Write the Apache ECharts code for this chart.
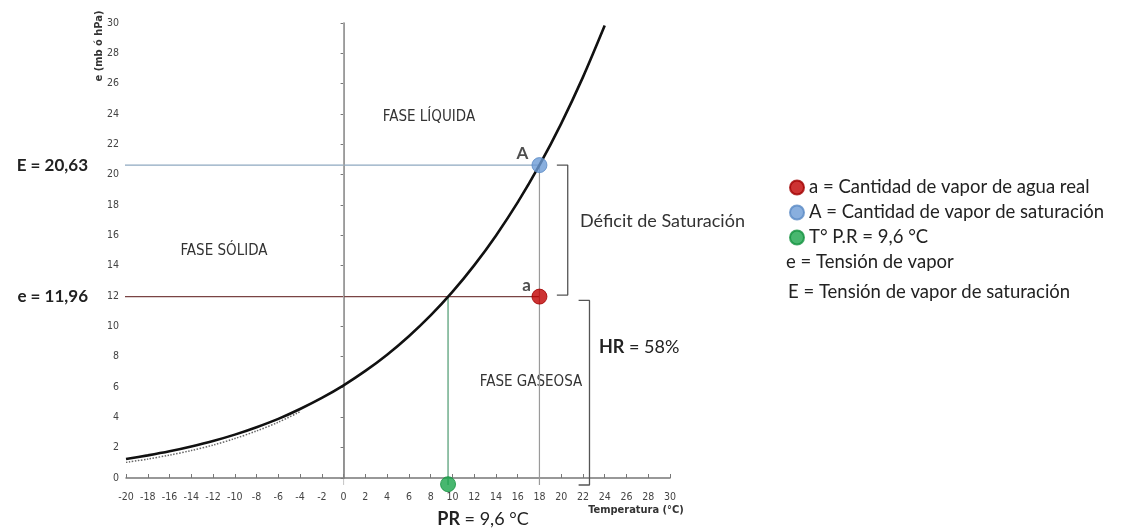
<!DOCTYPE html>
<html>
<head>
<meta charset="utf-8">
<script src="https://cdn.jsdelivr.net/npm/echarts@6/dist/echarts.min.js"></script>
<style>
html,body{margin:0;padding:0;background:#fff;}
#chart{width:1121px;height:528px;}
</style>
</head>
<body>
<div id="chart"></div>
<script>
// ---- data ----
const temps = [-20,-18,-16,-14,-12,-10,-8,-6,-4,-2,0,2,4,6,8,10,12,14,16,18,20,22,24];
const eSat  = [1.25,1.49,1.76,2.08,2.44,2.86,3.35,3.90,4.55,5.28,6.11,7.06,8.13,9.35,10.72,12.27,14.02,15.98,18.17,20.63,23.37,26.43,29.83];
const iceTemps = [-20,-18,-16,-14,-12,-10,-8,-6,-4];
const eIce = [1.03,1.25,1.51,1.81,2.17,2.60,3.10,3.68,4.37];
const xTicks = {min:-20, max:30, step:2};
const yTicks = {min:0, max:30, step:2};
const T = 18;          // air temperature (°C)
const E = 20.63;       // saturation vapour pressure
const e = 11.96;       // actual vapour pressure
const PR = 9.6;        // dew point
const HR = 58;         // relative humidity %
const legendNames = ['a = Cantidad de vapor de agua real','A = Cantidad de vapor de saturación','T° P.R = 9,6 °C'];
const extraLegend = ['e = Tensión de vapor','E = Tensión de vapor de saturación'];

const NARROW = "'Liberation Sans Narrow','DejaVu Sans Condensed',sans-serif";
const MAIN = "Lato,'Noto Sans',sans-serif";
const axisBottom = -0.46; // where the offset x axis line sits, in value units
const leftStart = -23;

const chart = echarts.init(document.getElementById('chart'), null, {renderer:'canvas'});

function seg(points, color, width, type){
  return {type:'line', data:points, symbol:'none', silent:true, clip:false,
    lineStyle:{color:color, width:width, type:type||'solid'}, z:2, animation:false};
}

const option = {
  animation:false,
  backgroundColor:'#fff',
  grid:{left:126, right:451, top:23, bottom:50},
  xAxis:{type:'value', min:xTicks.min, max:xTicks.max, interval:xTicks.step, offset:7,
    axisLine:{lineStyle:{color:'#777', width:1.5}},
    axisTick:{inside:true, length:4, lineStyle:{color:'#777'}},
    axisLabel:{color:'#444', fontSize:10.5, fontFamily:NARROW, margin:7},
    splitLine:{show:false}},
  yAxis:{type:'value', min:yTicks.min, max:yTicks.max, interval:yTicks.step, offset:4,
    axisLine:{show:true, lineStyle:{color:'#777', width:1.5}},
    axisTick:{show:true, length:3, lineStyle:{color:'#777'}},
    axisLabel:{color:'#444', fontSize:10.5, fontFamily:NARROW, margin:3},
    splitLine:{show:false}},
  legend:{orient:'vertical', left:784, top:172, itemWidth:14, itemHeight:14, itemGap:4,
    icon:'circle', data:legendNames,
    textStyle:{fontFamily:MAIN, fontSize:18.5, color:'#222', lineHeight:21}},
  series:[
    seg([[leftStart,E],[T,E]], '#8ea8c0', 1.2),
    seg([[leftStart,e],[T,e]], '#7a4444', 1.2),
    seg([[0,yTicks.max],[0,6.1]], '#aaaaaa', 1),
    seg([[0,6.1],[0,axisBottom]], '#888888', 1, 'dotted'),
    seg([[T,E],[T,axisBottom]], '#9a9a9a', 1.2),
    seg([[PR,e],[PR,axisBottom]], '#6fae8c', 1.5),
    seg([[19.6,E],[20.6,E],[20.6,e+0.1],[19.6,e+0.1]], '#555', 1.3),
    seg([[21.6,e-0.25],[22.6,e-0.25],[22.6,axisBottom],[21.6,axisBottom]], '#555', 1.3),
    {type:'line', data:iceTemps.map((t,i)=>[t,eIce[i]]), symbol:'none', smooth:0.3, silent:true,
      lineStyle:{color:'#666', width:1.5, type:'dotted'}, z:3},
    {type:'line', data:temps.map((t,i)=>[t,eSat[i]]), symbol:'none', smooth:0.3, silent:true,
      lineStyle:{color:'#111', width:2.6}, z:4},
    {name:legendNames[0], type:'scatter', data:[[T,e]], symbolSize:15, clip:false, z:6,
      itemStyle:{color:'#c00000', borderColor:'#a00000', borderWidth:1},
      label:{show:true, formatter:'a', position:'inside', offset:[-13,-11], color:'#222', fontSize:17, fontWeight:'bold', fontFamily:MAIN}},
    {name:legendNames[1], type:'scatter', data:[[T,E]], symbolSize:15, clip:false, z:6,
      itemStyle:{color:'#6b9bd6', borderColor:'#5a8ac4', borderWidth:1},
      label:{show:true, formatter:'A', position:'inside', offset:[-17,-12], color:'#222', fontSize:17, fontWeight:'bold', fontFamily:MAIN}},
    {name:legendNames[2], type:'scatter', data:[[PR,axisBottom+0.05]], symbolSize:15, clip:false, z:6,
      itemStyle:{color:'#1aa54b', borderColor:'#13913f', borderWidth:1}}
  ],
  graphic:[
    {type:'text', x:99, y:46, rotation:Math.PI/2, style:{text:'e (mb ó hPa)', font:'bold 11px '+NARROW, fill:'#333', align:'center', verticalAlign:'middle'}},
    {type:'text', x:88, y:166, style:{text:'E = 20,63', font:'bold 17px '+MAIN, fill:'#222', align:'right', verticalAlign:'middle'}},
    {type:'text', x:88, y:297, style:{text:'e = 11,96', font:'bold 17px '+MAIN, fill:'#222', align:'right', verticalAlign:'middle'}},
    {type:'text', x:429, y:117, style:{text:'FASE LÍQUIDA', font:'15px '+NARROW, fill:'#333', align:'center', verticalAlign:'middle'}},
    {type:'text', x:224, y:251, style:{text:'FASE SÓLIDA', font:'15px '+NARROW, fill:'#333', align:'center', verticalAlign:'middle'}},
    {type:'text', x:531, y:382, style:{text:'FASE GASEOSA', font:'15px '+NARROW, fill:'#333', align:'center', verticalAlign:'middle'}},
    {type:'text', x:580, y:221, style:{text:'Déficit de Saturación', font:'18px '+MAIN, fill:'#333', align:'left', verticalAlign:'middle'}},
    {type:'text', x:599, y:347, style:{text:'{b|HR} = '+HR+'%', font:'18px '+MAIN, fill:'#222', align:'left', verticalAlign:'middle',
      rich:{b:{font:'bold 18px '+MAIN, fill:'#222'}}}},
    {type:'text', x:483, y:519, style:{text:'{b|PR} = 9,6 °C', font:'18px '+MAIN, fill:'#222', align:'center', verticalAlign:'middle',
      rich:{b:{font:'bold 18px '+MAIN, fill:'#222'}}}},
    {type:'text', x:636, y:510, style:{text:'Temperatura (°C)', font:'bold 11px '+NARROW, fill:'#333', align:'center', verticalAlign:'middle'}},
    {type:'text', x:786, y:262, style:{text:extraLegend[0], font:'18.5px '+MAIN, fill:'#222', align:'left', verticalAlign:'middle'}},
    {type:'text', x:788, y:292, style:{text:extraLegend[1], font:'18.5px '+MAIN, fill:'#222', align:'left', verticalAlign:'middle'}}
  ]
};
chart.setOption(option);
</script>
</body>
</html>
